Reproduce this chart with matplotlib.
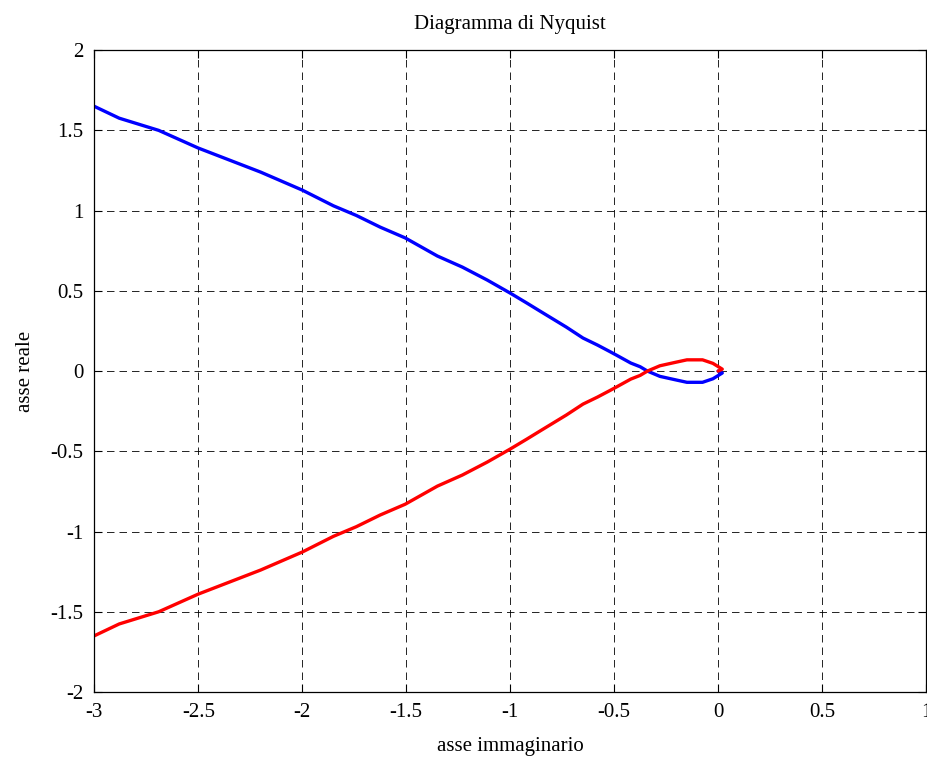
import numpy as np
import matplotlib
matplotlib.use('Agg')
import matplotlib.pyplot as plt

# values (positive-frequency branch)
re_pts = [-3.0, -2.88, -2.69, -2.5, -2.2, -2.0, -1.85, -1.74, -1.625, -1.505,
          -1.35, -1.23, -1.11, -1.0, -0.92, -0.857, -0.73, -0.65, -0.58,
          -0.52, -0.49, -0.42, -0.375, -0.34, -0.28, -0.2, -0.15, -0.075,
          -0.025, 0.02, 0.0]
im_pts = [1.65, 1.576, 1.50, 1.39, 1.24, 1.128, 1.03, 0.97, 0.897, 0.83,
          0.717, 0.648, 0.567, 0.486, 0.424, 0.374, 0.274, 0.206, 0.162,
          0.121, 0.10, 0.05, 0.027, 0.0, -0.033, -0.056, -0.07, -0.07,
          -0.048, -0.012, 0.0]

x_ticks = [-3, -2.5, -2, -1.5, -1, -0.5, 0, 0.5, 1]
y_ticks = [-2, -1.5, -1, -0.5, 0, 0.5, 1, 1.5, 2]

plt.rcParams['font.family'] = ['Liberation Serif', 'DejaVu Serif']
plt.rcParams['axes.unicode_minus'] = False

fig = plt.figure(figsize=(9.27, 7.6), dpi=100)
ax = fig.add_axes([0.1017, 0.0895, 0.8973, 0.8445])

re = np.array(re_pts)
im = np.array(im_pts)
ax.plot(re, im, color='#0000ff', lw=2.4, solid_capstyle='round')
ax.plot(re, -im, color='#ff0000', lw=2.4, solid_capstyle='round')

ax.set_xlim(-3, 1)
ax.set_ylim(-2, 2)
ax.set_xticks(x_ticks)
ax.set_yticks(y_ticks)
ax.set_xticklabels(['%g' % v for v in x_ticks])
ax.set_yticklabels(['%g' % v for v in y_ticks])
ax.grid(True, color='k', linestyle=(0, (9, 6)), lw=0.6)
ax.tick_params(direction='in', length=6, width=0.8, top=True, right=True,
               labelsize=15, pad=8)
for s in ax.spines.values():
    s.set_linewidth(0.9)

ax.set_title('Diagramma di Nyquist', fontsize=15, pad=15)
ax.set_xlabel('asse immaginario', fontsize=15, labelpad=11)
ax.set_ylabel('asse reale', fontsize=15, labelpad=11)

plt.savefig('out.png', dpi=100)
plt.close()
